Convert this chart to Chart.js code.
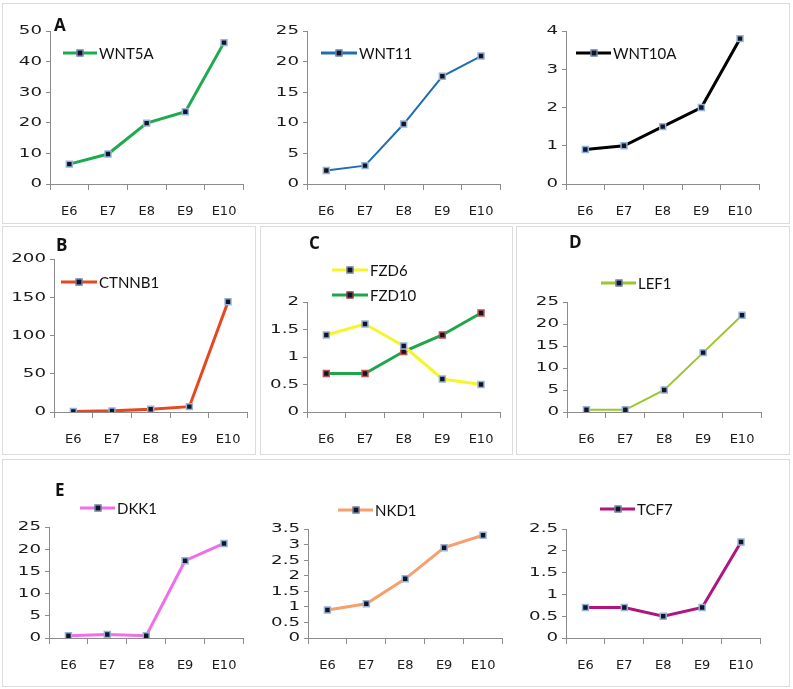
<!DOCTYPE html>
<html><head><meta charset="utf-8">
<script src="https://cdn.jsdelivr.net/npm/chart.js@4"></script>
<style>
html,body{margin:0;padding:0;background:#fff;}
#wrap{position:relative;width:793px;height:689px;overflow:hidden;font-family:Lato,"Open Sans",sans-serif;}
.box{position:absolute;border:1px solid #dcdcdc;box-sizing:border-box;}
canvas{position:absolute;}
.lbl{position:absolute;font-weight:bold;font-size:17px;color:#111;line-height:1;font-family:"Open Sans",sans-serif;}
.leg{position:absolute;height:16px;font-size:15px;color:#111;line-height:16px;white-space:nowrap;}
.leg .ln{position:absolute;top:50%;height:3px;transform:translateY(-50%);}
.leg .mk{position:absolute;top:50%;width:5px;height:5px;transform:translate(-50%,-50%);background:#141428;border:1.5px solid #95b3d7;}
.leg .tx{position:absolute;top:0;}
</style></head>
<body><div id="wrap"></div>
<script>
// ---- data ----
const categories = ["E6", "E7", "E8", "E9", "E10"];
const wnt5a  = [6.5, 9.8, 19.9, 23.6, 46.2];
const wnt11  = [2.2, 3.0, 9.8, 17.6, 20.9];
const wnt10a = [0.9, 1.0, 1.5, 2.0, 3.8];
const ctnnb1 = [0.8, 1.5, 3.5, 7.0, 144];
const fzd6   = [1.4, 1.6, 1.2, 0.6, 0.5];
const fzd10  = [0.7, 0.7, 1.1, 1.4, 1.8];
const lef1   = [0.5, 0.5, 5.0, 13.5, 22.0];
const dkk1   = [0.5, 0.8, 0.5, 17.4, 21.3];
const nkd1   = [0.9, 1.1, 1.9, 2.9, 3.3];
const tcf7   = [0.7, 0.7, 0.5, 0.7, 2.2];
const seriesNames = ["WNT5A","WNT11","WNT10A","CTNNB1","FZD6","FZD10","LEF1","DKK1","NKD1","TCF7"];
const panelLetters = ["A","B","C","D","E"];
const yMaxes = [50, 25, 4, 200, 2, 25, 25, 3.5, 2.5];
const ySteps = [10, 5, 1, 50, 0.5, 5, 5, 0.5, 0.5];

const wrap = document.getElementById('wrap');
const TFONT = '"DejaVu Sans", sans-serif';
const AXC = '#8c8c8c';
const Y_STRETCH = 1.4;

function addBox(x,y,w,h){const d=document.createElement('div');d.className='box';
  Object.assign(d.style,{left:x+'px',top:y+'px',width:w+'px',height:h+'px'});wrap.appendChild(d);}
function addLabel(t,x,y){const d=document.createElement('div');d.className='lbl';d.textContent=t;
  Object.assign(d.style,{left:x+'px',top:y+'px'});wrap.appendChild(d);}
function addLegend(name,color,mkBorder,x1,x2,y,lw){
  const d=document.createElement('div');d.className='leg';
  Object.assign(d.style,{left:x1+'px',top:(y-8)+'px',width:'120px'});
  const ln=document.createElement('div');ln.className='ln';
  Object.assign(ln.style,{left:'0px',width:(x2-x1)+'px',background:color,height:lw+'px'});
  const mk=document.createElement('div');mk.className='mk';
  Object.assign(mk.style,{left:((x2-x1)/2)+'px',borderColor:mkBorder});
  const tx=document.createElement('span');tx.className='tx';tx.textContent=name;
  tx.style.left=(x2-x1+2)+'px';
  d.appendChild(ln);d.appendChild(mk);d.appendChild(tx);wrap.appendChild(d);
}

function stretchYLabels(s){
  if(s._stretched) return;
  const orig = s.drawLabels;
  s.drawLabels = function(a){
    const ctx=this.ctx;
    const x0=this.right - this.options.grid.tickLength - this.options.ticks.padding;
    ctx.save(); ctx.translate(x0,0); ctx.scale(Y_STRETCH,1); ctx.translate(-x0,0);
    orig.call(this,a);
    ctx.restore();
  };
  s._stretched=true;
}

const PL=50, PR=6, PT=26, PB=40;
function makeChart(area, datasets, yMax, yStep){
  const c=document.createElement('canvas');
  const w=area.R-area.L+PL+PR, h=area.B-area.T+PT+PB;
  c.width=w;c.height=h;
  Object.assign(c.style,{left:(area.L-PL)+'px',top:(area.T-PT)+'px',width:w+'px',height:h+'px'});
  wrap.appendChild(c);
  new Chart(c,{
    type:'line',
    data:{labels:categories,datasets:datasets.map(ds=>({
      label:ds.name,data:ds.data,borderColor:ds.color,borderWidth:ds.lw,
      pointStyle:'rect',pointRadius:4.2,pointHoverRadius:4.2,
      pointBackgroundColor:'#141428',pointBorderColor:ds.mk||'#95b3d7',pointBorderWidth:1.5,
      tension:0,fill:false}))},
    options:{
      responsive:false,animation:false,devicePixelRatio:1,
      layout:{padding:{top:PT,right:PR,left:0,bottom:0}},
      plugins:{legend:{display:false},tooltip:{enabled:false}},
      scales:{
        x:{type:'category',offset:true,
          grid:{offset:true,drawOnChartArea:false,drawTicks:true,tickLength:6,color:AXC},
          border:{display:true,color:AXC,width:1},
          ticks:{color:'#1a1a1a',font:{family:TFONT,size:13},padding:14,maxRotation:0,autoSkip:false},
          afterFit:s=>{s.height=PB;}},
        y:{min:0,max:yMax,
          grid:{drawOnChartArea:false,drawTicks:true,tickLength:4,color:AXC},
          border:{display:true,color:AXC,width:1},
          ticks:{stepSize:yStep,autoSkip:false,color:'#1a1a1a',font:{family:TFONT,size:13},padding:4,
            callback:v=>String(+Number(v).toFixed(2))},
          afterFit:s=>{s.width=PL;stretchYLabels(s);}}
      }
    }
  });
}

// panel borders
addBox(2,3,788,221);
addBox(2,226,254,229);
addBox(260,226,253,229);
addBox(516,226,274,229);
addBox(2,459,788,228);

// Row 1
makeChart({L:50,R:245,T:31,B:184},[{name:seriesNames[0],data:wnt5a,color:'#1faa4f',lw:3}],yMaxes[0],ySteps[0]);
makeChart({L:307,R:502,T:31,B:184},[{name:seriesNames[1],data:wnt11,color:'#1f6eb4',lw:2}],yMaxes[1],ySteps[1]);
makeChart({L:566,R:761,T:31,B:184},[{name:seriesNames[2],data:wnt10a,color:'#000000',lw:3}],yMaxes[2],ySteps[2]);
// Row 2
makeChart({L:54,R:249,T:259,B:412},[{name:seriesNames[3],data:ctnnb1,color:'#e8461e',lw:3}],yMaxes[3],ySteps[3]);
makeChart({L:307,R:502,T:302,B:412},[
  {name:seriesNames[4],data:fzd6,color:'#f5f52a',lw:3},
  {name:seriesNames[5],data:fzd10,color:'#1fa64a',lw:3,mk:'#c0504d'}],yMaxes[4],ySteps[4]);
makeChart({L:567,R:763,T:302,B:412},[{name:seriesNames[6],data:lef1,color:'#9cc62a',lw:2}],yMaxes[5],ySteps[5]);
// Row 3
makeChart({L:49,R:245,T:527,B:638},[{name:seriesNames[7],data:dkk1,color:'#ee6fe8',lw:3}],yMaxes[6],ySteps[6]);
makeChart({L:308,R:504,T:529,B:638},[{name:seriesNames[8],data:nkd1,color:'#f5a06e',lw:3}],yMaxes[7],ySteps[7]);
makeChart({L:566,R:762,T:529,B:638},[{name:seriesNames[9],data:tcf7,color:'#b0157f',lw:3}],yMaxes[8],ySteps[8]);

// legends
addLegend(seriesNames[0],'#1faa4f','#95b3d7',63,97,53,3);
addLegend(seriesNames[1],'#1f6eb4','#95b3d7',321,357,53,3);
addLegend(seriesNames[2],'#000000','#95b3d7',576,611,53,3);
addLegend(seriesNames[3],'#e8461e','#95b3d7',61,97,282,3);
addLegend(seriesNames[4],'#f5f52a','#95b3d7',332,368,270,3);
addLegend(seriesNames[5],'#1fa64a','#c0504d',332,368,295,3);
addLegend(seriesNames[6],'#9cc62a','#95b3d7',601,636,283,3);
addLegend(seriesNames[7],'#ee6fe8','#95b3d7',80,115,508,3);
addLegend(seriesNames[8],'#f5a06e','#95b3d7',338,373,510,3);
addLegend(seriesNames[9],'#b0157f','#95b3d7',600,635,509,3);

// panel letters
addLabel(panelLetters[0],54,16);
addLabel(panelLetters[1],56,236);
addLabel(panelLetters[2],309,234);
addLabel(panelLetters[3],569,233);
addLabel(panelLetters[4],55,481);
</script></body></html>
